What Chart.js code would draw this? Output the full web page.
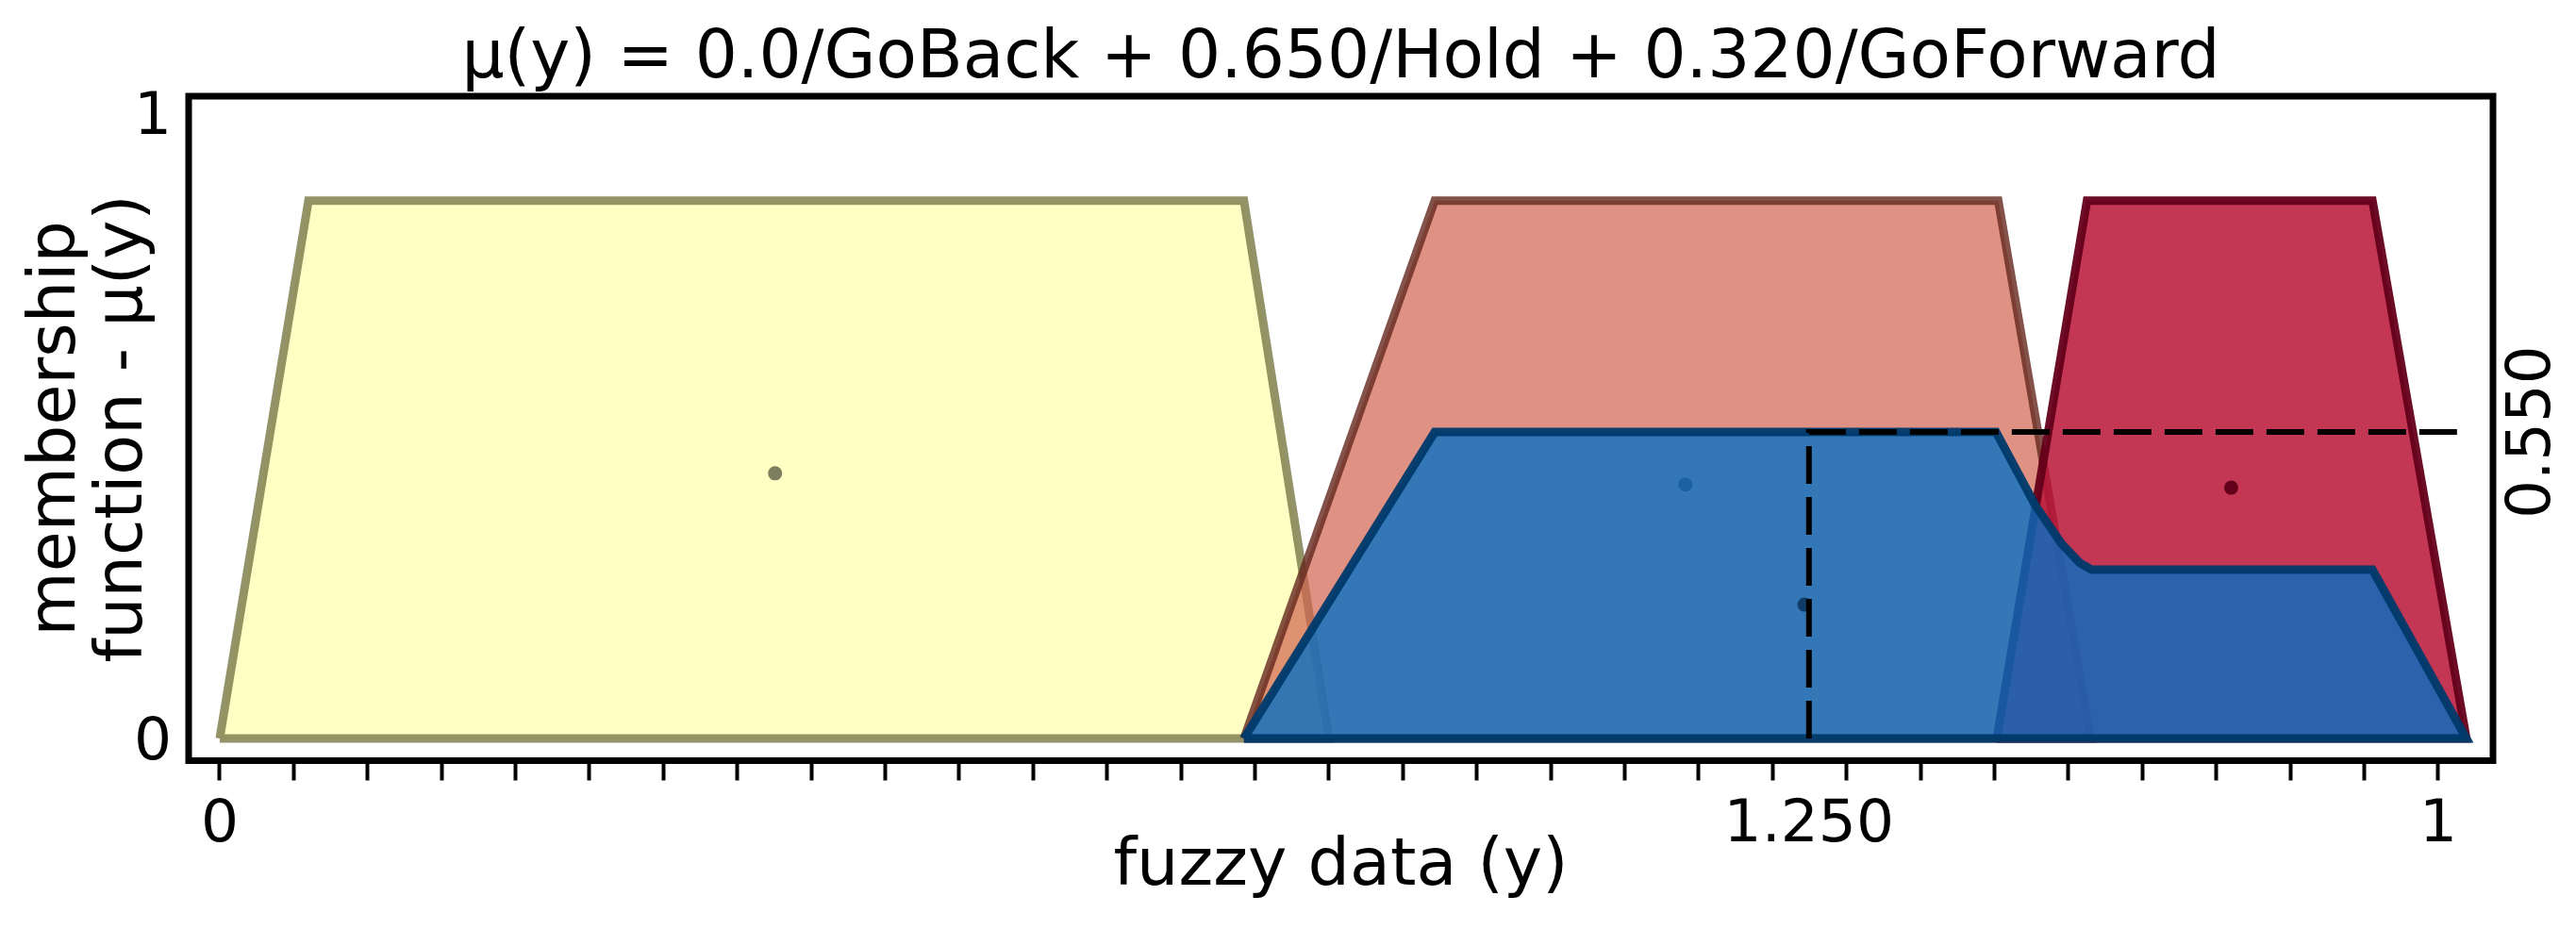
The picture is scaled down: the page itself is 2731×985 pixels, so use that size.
<!DOCTYPE html>
<html>
<head>
<meta charset="utf-8">
<script src="https://cdn.jsdelivr.net/npm/chart.js@4.4.0/dist/chart.umd.min.js"></script>
<style>
  html,body{margin:0;padding:0;background:#fff;}
  #wrap{width:2731px;height:985px;}
</style>
</head>
<body>
<div id="wrap"><canvas id="fuzzy" width="2731" height="985"></canvas></div>
<script>
// x is in tick units (31 ticks, 0..30), y is membership
const goBackX = [0, 1.2, 13.85, 15, 0];
const goBackY = [0, 0.86, 0.86, 0, 0];
const holdX = [13.85, 16.43, 24.05, 25.3, 13.85];
const holdY = [0, 0.86, 0.86, 0, 0];
const goForwardX = [24.03, 25.25, 29.11, 30.38, 24.03];
const goForwardY = [0, 0.86, 0.86, 0, 0];
const resultX = [13.85, 16.43, 24.02, 24.55, 24.91, 25.15, 25.31, 29.11, 30.38, 13.85];
const resultY = [0, 0.49, 0.49, 0.373, 0.311, 0.281, 0.27, 0.27, 0, 0];

// centroids: GoBack, Hold, GoForward, result
const centroidX = [7.51, 19.82, 27.2, 21.43];
const centroidY = [0.424, 0.406, 0.401, 0.214];

// defuzzified value marker
const cutX = [21.49, 21.49, 30.42];
const cutY = [0, 0.49, 0.49];
const cutXLabel = '1.250';
const cutYLabel = '0.550';

const xTicks = [0,1,2,3,4,5,6,7,8,9,10,11,12,13,14,15,16,17,18,19,20,21,22,23,24,25,26,27,28,29,30];
const xTickText = {0:'0', 30:'1'};
const yTicks = [0, 1];
const yTickText = {0:'0', 1:'1'};

const titleText = 'μ(y) = 0.0/GoBack + 0.650/Hold + 0.320/GoForward';
const FONT = 'DejaVu Sans';

function pts(xs, ys){
  return xs.map((x,i)=>({x, y: ys[i]}));
}

function shape(xs, ys, fill, edge, order){
  return {data: pts(xs, ys), fill:'shape', backgroundColor: fill, borderColor: edge,
    borderWidth: 9, borderJoinStyle:'miter', pointRadius: 0, tension: 0, order};
}

function dot(i, color, order){
  return {data: [{x: centroidX[i], y: centroidY[i]}], showLine:false, pointRadius: 7.5,
    pointBorderWidth: 0, pointBackgroundColor: color, order};
}

// spines, title and the rotated cut label
const framePlugin = {
  id:'frame',
  afterDraw(chart){
    const {ctx, chartArea:a, scales} = chart;
    ctx.save();
    ctx.strokeStyle = '#000';
    ctx.lineWidth = 7;
    ctx.strokeRect(a.left, a.top, a.right - a.left, a.bottom - a.top);
    ctx.fillStyle = '#000';
    ctx.font = '71px "' + FONT + '"';
    ctx.textAlign = 'center';
    ctx.textBaseline = 'alphabetic';
    ctx.fillText(titleText, (a.left + a.right) / 2, 82);
    const y = scales.y.getPixelForValue(cutY[1]);
    ctx.translate(a.right + 60, y);
    ctx.rotate(-Math.PI/2);
    ctx.font = '64px "' + FONT + '"';
    ctx.fillText(cutYLabel, 0, 0);
    ctx.restore();
  }
};

const allXTicks = xTicks.concat([cutX[0]]).sort((a,b)=>a-b);

new Chart(document.getElementById('fuzzy'), {
  type:'line',
  data:{datasets:[
    {data: pts(cutX, cutY), borderColor:'#000', borderWidth:6, borderDash:[40,14],
      fill:false, pointRadius:0, tension:0, order:0},
    dot(3, 'rgb(15,60,105)', 1),
    shape(resultX, resultY, 'rgba(2,112,197,0.78)', 'rgba(0,58,108,0.95)', 2),
    dot(2, 'rgb(100,0,25)', 3),
    shape(goForwardX, goForwardY, 'rgba(185,20,55,0.85)', 'rgba(100,0,25,0.95)', 4),
    dot(1, 'rgb(110,50,40)', 5),
    shape(holdX, holdY, 'rgba(210,100,80,0.7)', 'rgba(100,40,30,0.8)', 6),
    dot(0, 'rgb(125,125,95)', 7),
    shape(goBackX, goBackY, 'rgba(255,255,190,0.9)', 'rgba(128,128,80,0.85)', 8)
  ]},
  options:{
    responsive:false,
    animation:false,
    events:[],
    layout:{padding:{left:0, right:88, top:102, bottom:0}},
    plugins:{
      legend:{display:false},
      tooltip:{enabled:false},
      title:{display:false}
    },
    scales:{
      x:{
        type:'linear', min:-0.42, max:30.74,
        afterFit(s){ s.height = 985 - 806.5; },
        afterBuildTicks(s){ s.ticks = allXTicks.map(v=>({value:v})); },
        ticks:{autoSkip:false, maxRotation:0, padding:10, color:'#000',
          font:{family:FONT, size:63},
          callback(v){ return v === cutX[0] ? cutXLabel : (xTickText[v] || ''); }},
        grid:{drawOnChartArea:false, drawTicks:true, tickLength:21, tickWidth:4,
          tickColor: c => (c.tick && c.tick.value === cutX[0]) ? 'rgba(0,0,0,0)' : '#000'},
        border:{display:false},
        title:{display:true, text:'fuzzy data (y)', color:'#000',
          font:{family:FONT, size:70, lineHeight:1}, padding:{top:0, bottom:30}}
      },
      y:{
        type:'linear', min:-0.0354, max:1.027,
        afterFit(s){ s.width = 200; },
        afterBuildTicks(s){ s.ticks = yTicks.map(v=>({value:v})); },
        ticks:{padding:18, labelOffset:6, color:'#000', font:{family:FONT, size:63},
          callback(v){ return yTickText[v] || ''; }},
        grid:{drawOnChartArea:false, drawTicks:false},
        border:{display:false},
        title:{display:true, text:['membership','function - μ(y)'], color:'#000',
          font:{family:FONT, size:70, lineHeight:1.014}, padding:{top:25, bottom:0}}
      }
    }
  },
  plugins:[framePlugin]
});
</script>
</body>
</html>
